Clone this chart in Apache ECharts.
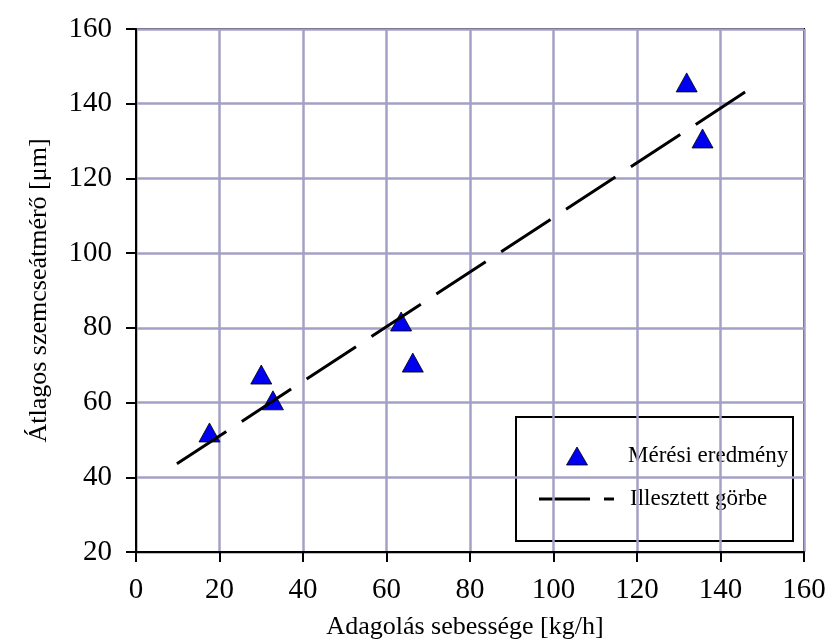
<!DOCTYPE html>
<html>
<head>
<meta charset="utf-8">
<script src="https://cdn.jsdelivr.net/npm/echarts@6/dist/echarts.min.js"></script>
<style>
  html, body { margin: 0; padding: 0; background: #fff; }
  #chart { width: 831px; height: 641px; }
</style>
</head>
<body>
<div id="chart"></div>
<script>
// Measured feed rate [kg/h] and mean particle size [µm]
const feedRate = [17.6, 30.0, 32.8, 63.5, 66.3, 131.9, 135.7];
const particleSize = [52.0, 67.5, 60.6, 81.7, 70.7, 145.7, 130.7];

// Fitted straight line, given by its two end points
const fitX = [9.8, 146.7];
const fitY = [43.6, 143.7];

// Axis ranges and tick step
const xTicks = { min: 0, max: 160, step: 20 };
const yTicks = { min: 20, max: 160, step: 20 };

const seriesNames = ['Mérési eredmény', 'Illesztett görbe'];
const xTitle = 'Adagolás sebessége [kg/h]';
const yTitle = 'Átlagos szemcseátmérő [μm]';

const FONT = '"Liberation Serif", "Times New Roman", serif';
const GRIDLINE = '#a3a1c5';
const MARKER = '#0000f0';

const measured = feedRate.map((x, i) => [x, particleSize[i]]);
const fitted = fitX.map((x, i) => [x, fitY[i]]);

const chart = echarts.init(document.getElementById('chart'), null, { renderer: 'canvas' });

const axisCommon = {
  type: 'value',
  nameLocation: 'middle',
  nameTextStyle: { fontFamily: FONT, fontSize: 26, color: '#000' },
  axisLine: { show: true, onZero: false, lineStyle: { color: '#000', width: 2 } },
  axisTick: { show: true, inside: false, length: 10, lineStyle: { color: '#000', width: 2 } },
  axisLabel: { fontFamily: FONT, fontSize: 29, color: '#000' },
  splitLine: { show: true, lineStyle: { color: GRIDLINE, width: 2.5 } }
};

chart.setOption({
  backgroundColor: '#fff',
  animation: false,
  grid: {
    left: 136, right: 27, top: 29, bottom: 89,
    containLabel: false,
    outerBoundsMode: 'none',
    show: true, borderColor: '#000', borderWidth: 2, backgroundColor: 'transparent'
  },
  xAxis: Object.assign({}, axisCommon, {
    min: xTicks.min, max: xTicks.max, interval: xTicks.step,
    name: xTitle, nameGap: 62,
    nameTextStyle: Object.assign({}, axisCommon.nameTextStyle, { padding: [0, 10, 0, 0] }),
    axisLabel: Object.assign({}, axisCommon.axisLabel, { margin: 24 })
  }),
  yAxis: Object.assign({}, axisCommon, {
    min: yTicks.min, max: yTicks.max, interval: yTicks.step,
    name: yTitle, nameGap: 84,
    axisLabel: Object.assign({}, axisCommon.axisLabel, { margin: 24 })
  }),
  series: [
    {
      name: seriesNames[0],
      type: 'scatter',
      data: measured,
      symbol: 'triangle',
      symbolSize: [21, 19],
      itemStyle: { color: MARKER, opacity: 1, borderColor: '#000', borderWidth: 0.8 },
      z: 3
    },
    {
      name: seriesNames[1],
      type: 'line',
      data: fitted,
      symbol: 'none',
      lineStyle: { color: '#000', width: 3, type: [59, 18.5] },
      z: 4
    }
  ],
  // Framed key in the lower right corner of the plot
  graphic: [
    {
      type: 'group', z: 100,
      children: [
        {
          type: 'rect',
          shape: { x: 516, y: 417, width: 277, height: 124 },
          style: { fill: '#fff', stroke: '#000', lineWidth: 2 }
        },
        {
          type: 'polygon',
          shape: { points: [[566.5, 465], [587.5, 465], [577, 447]] },
          style: { fill: MARKER, stroke: '#000', lineWidth: 0.8 }
        },
        {
          type: 'text',
          style: {
            text: seriesNames[0], x: 628, y: 456,
            font: '23px ' + FONT, fill: '#000', verticalAlign: 'middle', align: 'left'
          }
        },
        {
          type: 'line',
          shape: { x1: 539, y1: 499, x2: 590, y2: 499 },
          style: { stroke: '#000', lineWidth: 3 }
        },
        {
          type: 'line',
          shape: { x1: 604, y1: 499, x2: 614, y2: 499 },
          style: { stroke: '#000', lineWidth: 3 }
        },
        {
          type: 'text',
          style: {
            text: seriesNames[1], x: 630, y: 499,
            font: '23px ' + FONT, fill: '#000', verticalAlign: 'middle', align: 'left'
          }
        }
      ]
    }
  ]
});
</script>
</body>
</html>
